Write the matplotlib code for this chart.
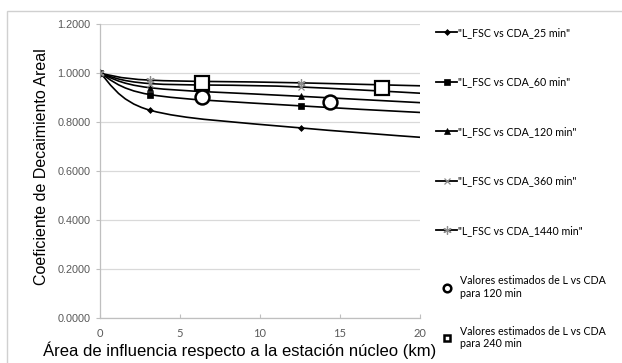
import numpy as np
import matplotlib
matplotlib.use("Agg")
import matplotlib.pyplot as plt
from matplotlib.path import Path
from matplotlib.patches import PathPatch, Rectangle
from matplotlib.lines import Line2D

# Sampled areas (km^2): circles of radius 0, 1, 2, 3 km
area = [0.0, 3.1416, 12.566, 28.274]

cda_25 = [1.000, 0.849, 0.777, 0.700]
cda_60 = [1.000, 0.913, 0.867, 0.812]
cda_120 = [1.000, 0.941, 0.906, 0.852]
cda_360 = [1.000, 0.958, 0.944, 0.888]
cda_1440 = [1.000, 0.972, 0.961, 0.935]

series_labels = ['"L_FSC vs CDA_25 min"', '"L_FSC vs CDA_60 min"',
                 '"L_FSC vs CDA_120 min"', '"L_FSC vs CDA_360 min"',
                 '"L_FSC vs CDA_1440 min"']

# Estimated values
est120_x = [6.36, 14.4]
est120_y = [0.905, 0.881]
est240_x = [6.4, 17.6]
est240_y = [0.962, 0.938]

est_labels = ["Valores estimados de L vs CDA\npara 120 min",
              "Valores estimados de L vs CDA\npara 240 min"]

yticks = [0.0, 0.2, 0.4, 0.6, 0.8, 1.0, 1.2]
xticks = [0, 5, 10, 15, 20]


def smooth_path(xs, ys, k=1.0 / 6.0):
    """Cubic Bezier path through the points (spreadsheet-style smoothing)."""
    pts = np.column_stack([xs, ys])
    n = len(pts)
    verts = [pts[0]]
    codes = [Path.MOVETO]
    for i in range(n - 1):
        p0 = pts[i - 1] if i > 0 else pts[i]
        p1 = pts[i]
        p2 = pts[i + 1]
        p3 = pts[i + 2] if i + 2 < n else pts[i + 1]
        c1 = p1 + (p2 - p0) * k
        c2 = p2 - (p3 - p1) * k
        verts += [c1, c2, p2]
        codes += [Path.CURVE4] * 3
    return Path(verts, codes)


fig = plt.figure(figsize=(6.22, 3.63), dpi=100)
ax = fig.add_axes([100 / 622, 1 - 318.3 / 363, 320 / 622, 294 / 363])

grey_grid = "#d9d9d9"
ax.set_xlim(0, 20)
ax.set_ylim(0, 1.2)
ax.set_yticks(yticks)
ax.set_yticklabels([f"{v:.4f}" for v in yticks], family="Liberation Sans",
                   fontsize=7.8, color="#595959")
ax.set_xticks(xticks)
ax.set_xticklabels([str(v) for v in xticks], family="Lato", fontsize=8,
                   color="#595959")
ax.grid(axis="y", color=grey_grid, lw=0.9)
ax.set_axisbelow(True)
for s in ["top", "right"]:
    ax.spines[s].set_visible(False)
for s in ["left", "bottom"]:
    ax.spines[s].set_color("#bfbfbf")
    ax.spines[s].set_linewidth(0.9)
ax.tick_params(axis="y", direction="out", length=3, color="#bfbfbf", pad=4)
ax.tick_params(axis="x", direction="in", length=3, color="#bfbfbf", pad=7)

series = [cda_25, cda_60, cda_120, cda_360, cda_1440]
styles = [
    dict(marker="D", ms=3.0, mfc="black", mec="black", mew=0.5),
    dict(marker="s", ms=4.5, mfc="black", mec="black", mew=0.5),
    dict(marker="^", ms=4.5, mfc="black", mec="black", mew=0.5),
    dict(marker="x", ms=5, mfc="none", mec="#8c8c8c", mew=0.9),
    dict(marker=(6, 2, 0), ms=6, mfc="none", mec="#8c8c8c", mew=0.9),
]

handles = []
for ys, st, lab in zip(series, styles, series_labels):
    ax.add_patch(PathPatch(smooth_path(area, ys), fill=False,
                           edgecolor="black", lw=1.2, zorder=3))
    ax.plot(area, ys, ls="none", zorder=4, clip_on=True, **st)
    handles.append(Line2D([], [], color="black", lw=1.3, label=lab, **st))

ax.plot(est120_x, est120_y, ls="none", marker="o", ms=10, mfc="white",
        mec="black", mew=1.8, zorder=5)
ax.plot(est240_x, est240_y, ls="none", marker="s", ms=9.5, mfc="white",
        mec="black", mew=1.6, zorder=5)

ax.set_ylabel("Coeficiente de Decaimiento Areal", family="Liberation Sans",
              fontsize=11.5, labelpad=6)
ax.yaxis.label.set_y(0.515)
ax.set_xlabel("Área de influencia respecto a la estación núcleo (km)",
              family="Liberation Sans", fontsize=12.0, labelpad=1.5)
ax.xaxis.label.set_x(0.4375)

leg1 = ax.legend(handles=handles, loc="upper left",
                 bbox_to_anchor=(436 / 622, 1 - 27 / 363),
                 bbox_transform=fig.transFigure, frameon=False,
                 prop=dict(family="Lato", size=7.7), handlelength=2.0,
                 handletextpad=0.1, labelspacing=3.6, borderaxespad=0,
                 borderpad=0)
ax.add_artist(leg1)

est_handles = [
    Line2D([], [], ls="none", marker="o", ms=5.5, mfc="white", mec="black",
           mew=1.8, label=est_labels[0]),
    Line2D([], [], ls="none", marker="s", ms=5, mfc="white", mec="black",
           mew=1.8, label=est_labels[1]),
]
ax.legend(handles=est_handles, loc="upper left",
          bbox_to_anchor=(440 / 622, 1 - 275 / 363),
          bbox_transform=fig.transFigure, frameon=False,
          prop=dict(family="Lato", size=7.7), handlelength=1.3,
          handletextpad=0.6, labelspacing=2.5, borderaxespad=0, borderpad=0)

# Chart area border
fig.add_artist(Rectangle((7 / 622, -0.05), 1.0, 1 - 11 / 363 + 0.05,
                         transform=fig.transFigure, fill=False,
                         edgecolor="#d0d0d0", lw=1.0, clip_on=False))

fig.savefig("out.png", dpi=100)
